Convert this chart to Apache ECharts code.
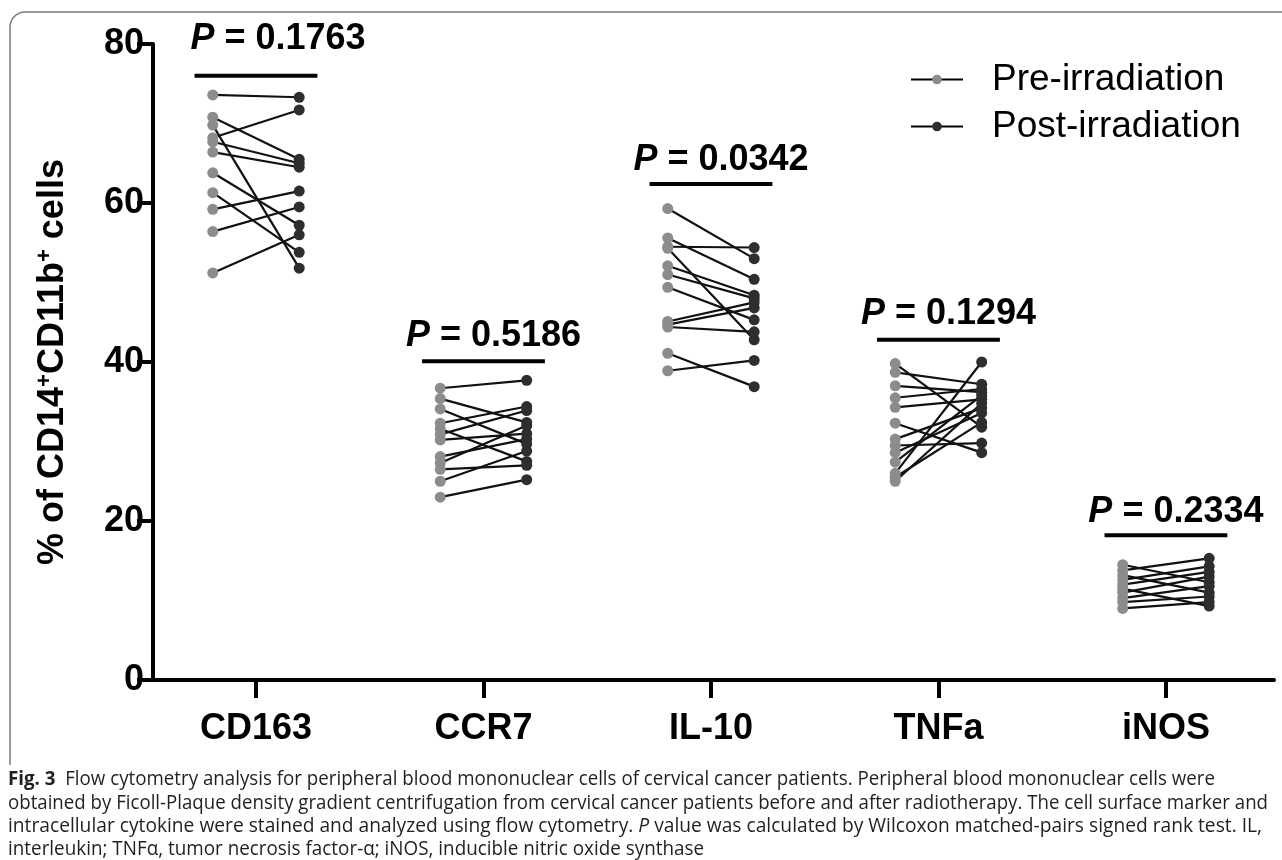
<!DOCTYPE html>
<html><head><meta charset="utf-8">
<script src="https://cdn.jsdelivr.net/npm/echarts@6/dist/echarts.min.js"></script>
<style>html,body{margin:0;padding:0;background:#fff;}#c{width:1282px;height:860px;}</style>
</head><body><div id="c"></div>
<script>
// ---------------- data ----------------
const categories = ['CD163', 'CCR7', 'IL-10', 'TNFa', 'iNOS'];
const pValues = ['0.1763', '0.5186', '0.0342', '0.1294', '0.2334'];
const pBarLevels = [76.0, 40.1, 62.4, 42.8, 18.2];
const seriesNames = ['Pre-irradiation', 'Post-irradiation'];

const cd163Pre  = [73.6, 70.8, 69.8, 68.2, 67.7, 66.4, 63.8, 61.3, 59.2, 56.4, 51.2];
const cd163Post = [73.3, 65.5, 51.8, 71.7, 65.0, 64.5, 57.2, 53.8, 61.5, 59.5, 56.0];

const ccr7Pre  = [36.7, 35.4, 34.1, 32.3, 31.6, 30.9, 30.2, 28.1, 27.3, 26.5, 25.0, 23.0];
const ccr7Post = [37.7, 32.4, 29.7, 34.4, 27.5, 33.9, 31.0, 30.3, 32.0, 27.0, 28.8, 25.2];

const il10Pre  = [59.3, 55.6, 54.5, 54.3, 52.1, 51.0, 49.4, 45.1, 44.7, 44.4, 41.1, 38.9];
const il10Post = [53.0, 50.4, 54.4, 42.8, 48.4, 48.0, 45.3, 47.5, 46.8, 43.8, 36.9, 40.2];

const tnfaPre  = [39.8, 38.7, 37.0, 35.5, 34.3, 32.3, 30.3, 29.5, 28.6, 27.4, 26.0, 25.5, 25.0];
const tnfaPost = [31.8, 37.2, 36.2, 36.6, 35.3, 28.6, 34.2, 29.8, 33.6, 35.8, 40.0, 32.4, 34.8];

const inosPre  = [14.5, 13.8, 13.2, 12.6, 12.0, 11.5, 11.0, 10.3, 9.8, 9.0];
const inosPost = [12.3, 15.3, 11.0, 14.3, 13.6, 9.3, 13.0, 11.8, 10.5, 9.8];

const captionLines = [
  '{b|Fig. 3}{r|  Flow cytometry analysis for peripheral blood mononuclear cells of cervical cancer patients. Peripheral blood mononuclear cells were}',
  '{r|obtained by Ficoll-Plaque density gradient centrifugation from cervical cancer patients before and after radiotherapy. The cell surface marker and}',
  '{r|intracellular cytokine were stained and analyzed using flow cytometry. }{i|P}{r| value was calculated by Wilcoxon matched-pairs signed rank test. IL,}',
  '{r|interleukin; TNFα, tumor necrosis factor-α; iNOS, inducible nitric oxide synthase}'
];

// ---------------- layout / style ----------------
const OFF = 0.19;           // pre/post horizontal offset (category units)
const BAR_HALF = 0.27;      // half width of the P-value bar
const pTextLift = [37, 25, 24, 26, 23];
const pTextShift = [22, 10, 10, 10, 10];
const FONT = 'Liberation Sans, Arial, Helvetica, sans-serif';
const CAP_FONT = 'Open Sans, Noto Sans, sans-serif';
const captionRight = [1215, 1268, 1262, null];
const captionY = [779, 803, 826, 849];

const groups = [[cd163Pre, cd163Post], [ccr7Pre, ccr7Post], [il10Pre, il10Post], [tnfaPre, tnfaPost], [inosPre, inosPost]];
const pairLines = [], preDots = [], postDots = [];
groups.forEach(([pre, post], i) => {
  pre.forEach((v, k) => {
    pairLines.push({ coords: [[i - OFF, v], [i + OFF, post[k]]] });
    preDots.push([i - OFF, v]);
    postDots.push([i + OFF, post[k]]);
  });
});

// caption measuring for horizontal fit
const capSize = 20;
const mctx = document.createElement('canvas').getContext('2d');
function measureRich(str) {
  const re = /\{(\w)\|([^}]*)\}/g; let m, w = 0;
  while ((m = re.exec(str))) {
    const st = m[1] === 'b' ? 'bold ' : (m[1] === 'i' ? 'italic ' : '');
    mctx.font = st + capSize + 'px ' + CAP_FONT;
    w += mctx.measureText(m[2]).width;
  }
  return w;
}
const capScales = captionLines.map((l, i) => captionRight[i] ? (captionRight[i] - 8) / measureRich(l) : null);
const avgScale = (capScales[0] + capScales[1] + capScales[2]) / 3;
const capGraphics = captionLines.map((l, i) => ({
  type: 'text', x: 8, y: captionY[i], scaleX: capScales[i] || avgScale,
  style: {
    text: l, x: 0, y: 0, verticalAlign: 'middle', align: 'left',
    fill: '#231f20', fontSize: capSize, fontFamily: CAP_FONT,
    rich: {
      b: { fontWeight: 'bold', fontSize: capSize, fontFamily: CAP_FONT, fill: '#231f20' },
      r: { fontSize: capSize, fontFamily: CAP_FONT, fill: '#231f20' },
      i: { fontStyle: 'italic', fontSize: capSize, fontFamily: CAP_FONT, fill: '#231f20' }
    }
  }
}));

// rounded top-left frame corner
const frame = [[10, 765], [10, 26]];
for (let k = 1; k < 8; k++) {
  const t = Math.PI + k * (Math.PI / 2) / 8;
  frame.push([25 + 15 * Math.cos(t), 27 + 15 * Math.sin(t)]);
}
frame.push([25, 12], [1290, 12]);

const chart = echarts.init(document.getElementById('c'), null, { renderer: 'canvas' });
chart.setOption({
  animation: false,
  backgroundColor: '#fff',
  grid: { left: 153, right: 8, top: 44, bottom: 180, containLabel: false },
  legend: {
    orient: 'vertical', left: 905, top: 56, itemWidth: 52, itemHeight: 12, itemGap: 10,
    data: seriesNames, selectedMode: false,
    lineStyle: { color: '#000', width: 2, opacity: 1 },
    textStyle: { fontSize: 37, color: '#000', fontFamily: FONT, padding: [0, 0, 0, 24], lineHeight: 36 }
  },
  xAxis: {
    type: 'value', min: -0.4527, max: 4.475,
    splitLine: { show: false },
    axisLine: { show: true, onZero: false, lineStyle: { color: '#000', width: 4 } },
    axisTick: { show: true, length: 18, lineStyle: { color: '#000', width: 4 }, customValues: [0, 1, 2, 3, 4] },
    axisLabel: {
      customValues: [0, 1, 2, 3, 4], formatter: v => categories[Math.round(v)],
      fontSize: 36, fontWeight: 'bold', color: '#000', margin: 31, fontFamily: FONT
    }
  },
  yAxis: {
    type: 'value', min: 0, max: 80, interval: 20,
    splitLine: { show: false },
    axisLine: { show: true, onZero: false, lineStyle: { color: '#000', width: 4 } },
    axisTick: { show: true, length: 16, lineStyle: { color: '#000', width: 4 } },
    axisLabel: { fontSize: 36, fontWeight: 'bold', color: '#000', margin: 9, fontFamily: FONT },
    name: '{a|% of CD14}{s|+}{a|CD11b}{s|+}{a| cells}',
    nameLocation: 'middle', nameGap: 81, nameRotate: 90,
    nameTextStyle: {
      rich: {
        a: { fontSize: 36, fontWeight: 'bold', color: '#000', fontFamily: FONT },
        s: { fontSize: 22, fontWeight: 'bold', color: '#000', fontFamily: FONT, padding: [0, 0, 16, 0] }
      }
    }
  },
  graphic: [
    { type: 'polyline', shape: { points: frame },
      style: { stroke: '#7a7a7a', lineWidth: 1.5, fill: null }, silent: true },
    ...capGraphics
  ],
  series: [
    {
      type: 'lines', coordinateSystem: 'cartesian2d', data: pairLines, silent: true, z: 3,
      lineStyle: { color: '#111', width: 2.2, opacity: 1 }
    },
    {
      name: seriesNames[0], type: 'line', data: preDots, symbol: 'circle', symbolSize: 11, silent: true, z: 5,
      itemStyle: { color: '#8c8c8c', borderWidth: 0 }, lineStyle: { opacity: 0, width: 1 }
    },
    {
      name: seriesNames[1], type: 'line', data: postDots, symbol: 'circle', symbolSize: 11, silent: true, z: 5,
      itemStyle: { color: '#2e2e2e', borderWidth: 0 }, lineStyle: { opacity: 0, width: 1 }
    },
    {
      type: 'custom', coordinateSystem: 'cartesian2d', silent: true, z: 6,
      data: categories.map((c, i) => [i, pBarLevels[i]]),
      renderItem: (params, api) => {
        const i = api.value(0), y = api.value(1), idx = params.dataIndex;
        const a = api.coord([i - BAR_HALF, y]);
        const b = api.coord([i + BAR_HALF, y]);
        const c = api.coord([i, y]);
        return {
          type: 'group', children: [
            { type: 'line', shape: { x1: a[0], y1: a[1], x2: b[0], y2: b[1] }, style: { stroke: '#000', lineWidth: 4 } },
            { type: 'text', x: c[0] + pTextShift[idx], y: c[1] - pTextLift[idx],
              style: {
                text: '{i|P}{n| = ' + pValues[idx] + '}', align: 'center', verticalAlign: 'middle',
                rich: {
                  i: { fontSize: 36, fontWeight: 'bold', fontStyle: 'italic', fill: '#000', fontFamily: FONT },
                  n: { fontSize: 36, fontWeight: 'bold', fill: '#000', fontFamily: FONT }
                }
              } }
          ]
        };
      }
    }
  ]
});
</script></body></html>
